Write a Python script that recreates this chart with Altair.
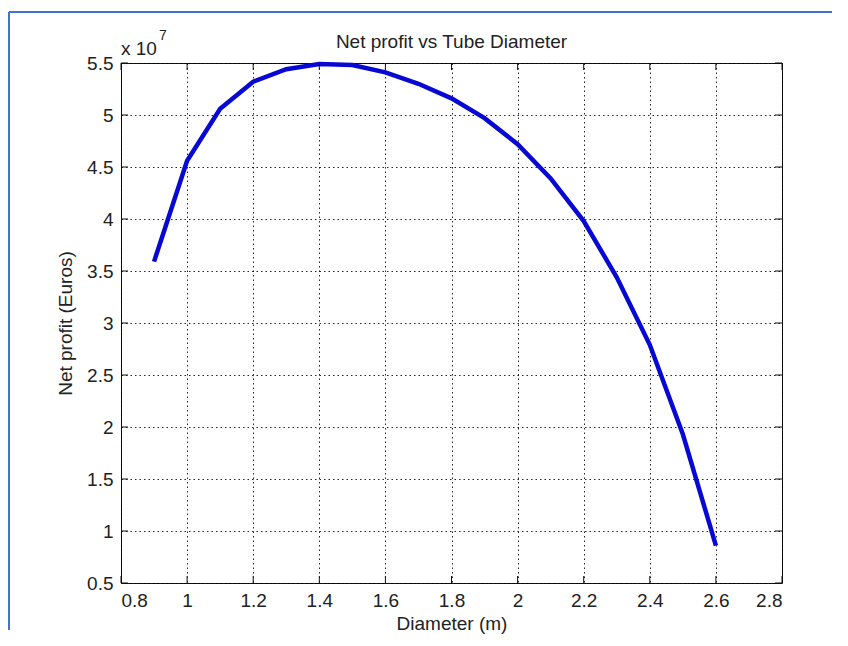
import altair as alt
import pandas as pd

# Data (net profit in units of 1e7 Euros)
diameter = [0.9, 1.0, 1.1, 1.2, 1.3, 1.4, 1.5, 1.6, 1.7, 1.8,
            1.9, 2.0, 2.1, 2.2, 2.3, 2.4, 2.5, 2.6]
profit = [3.59, 4.56, 5.06, 5.32, 5.44, 5.49, 5.48, 5.41, 5.30, 5.16,
          4.97, 4.72, 4.39, 3.98, 3.44, 2.79, 1.93, 0.86]
x_ticks = [0.8, 1.0, 1.2, 1.4, 1.6, 1.8, 2.0, 2.2, 2.4, 2.6, 2.8]
y_ticks = [0.5, 1.0, 1.5, 2.0, 2.5, 3.0, 3.5, 4.0, 4.5, 5.0, 5.5]
title_text = "Net profit vs Tube Diameter"
x_title = "Diameter (m)"
y_title = "Net profit (Euros)"

FONT = "Liberation Sans, Arial, Helvetica, sans-serif"
TXT = "#222222"
FS = 19
W, H = 661, 520
TICK = 7

df = pd.DataFrame({"v": diameter, "w": profit})
xt = pd.DataFrame({"v": x_ticks})
yt = pd.DataFrame({"w": y_ticks})
one = pd.DataFrame({"a": [0]})

xs = alt.Scale(domain=[0.8, 2.8], nice=False, zero=False)
ys = alt.Scale(domain=[0.5, 5.5], nice=False, zero=False)

common = dict(grid=True, gridColor="#000000", gridDash=[1.5, 3], gridWidth=1,
              gridOpacity=0.85, domain=False, ticks=False,
              labelFont=FONT, labelFontSize=FS, labelColor=TXT,
              titleFont=FONT, titleFontSize=FS, titleFontWeight="normal",
              titleColor=TXT, format="~g")
xaxis = alt.Axis(values=x_ticks, title=x_title, labelPadding=8, titlePadding=4, **common)
yaxis = alt.Axis(values=y_ticks, title=y_title, labelPadding=8, titlePadding=11, **common)

X = alt.X("v:Q", scale=xs, axis=xaxis)
Y = alt.Y("w:Q", scale=ys, axis=yaxis)

line = alt.Chart(df).mark_line(color="#0808d4", strokeWidth=4.5).encode(x=X, y=Y)

tick_color = "#111111"
bottom_ticks = alt.Chart(xt).mark_rule(color=tick_color, strokeWidth=1).encode(
    x=X, y=alt.value(H), y2=alt.value(H - TICK))
top_ticks = alt.Chart(xt).mark_rule(color=tick_color, strokeWidth=1).encode(
    x=X, y=alt.value(0), y2=alt.value(TICK))
left_ticks = alt.Chart(yt).mark_rule(color=tick_color, strokeWidth=1).encode(
    y=Y, x=alt.value(0), x2=alt.value(TICK))
right_ticks = alt.Chart(yt).mark_rule(color=tick_color, strokeWidth=1).encode(
    y=Y, x=alt.value(W), x2=alt.value(W - TICK))

title_mark = alt.Chart(one).mark_text(
    text=title_text, font=FONT, fontSize=FS, align="center", baseline="alphabetic",
    color=TXT).encode(x=alt.value(W / 2), y=alt.value(-15))
exp_base = alt.Chart(one).mark_text(
    text="x 10", font=FONT, fontSize=FS, align="left", baseline="alphabetic",
    color=TXT).encode(x=alt.value(0), y=alt.value(-8))
exp_sup = alt.Chart(one).mark_text(
    text="7", font=FONT, fontSize=14, align="left", baseline="alphabetic",
    color=TXT).encode(x=alt.value(38), y=alt.value(-23))

frame_color = "#4472c4"
frame_top = alt.Chart(one).mark_rule(color=frame_color, strokeWidth=2).encode(
    x=alt.value(-112), x2=alt.value(711), y=alt.value(-51))
frame_left = alt.Chart(one).mark_rule(color=frame_color, strokeWidth=2).encode(
    x=alt.value(-112), y=alt.value(-51), y2=alt.value(567))

chart = alt.layer(
    line, bottom_ticks, top_ticks, left_ticks, right_ticks,
    title_mark, exp_base, exp_sup, frame_top, frame_left
).properties(
    width=W, height=H,
    autosize=alt.AutoSizeParams(type="none"),
    padding={"left": 113, "top": 55, "right": 58, "bottom": 55},
).configure(
    background="white"
).configure_view(
    stroke="#111111", strokeWidth=1
)

chart.save("out.html", embed_options={"renderer": "svg", "actions": False})
